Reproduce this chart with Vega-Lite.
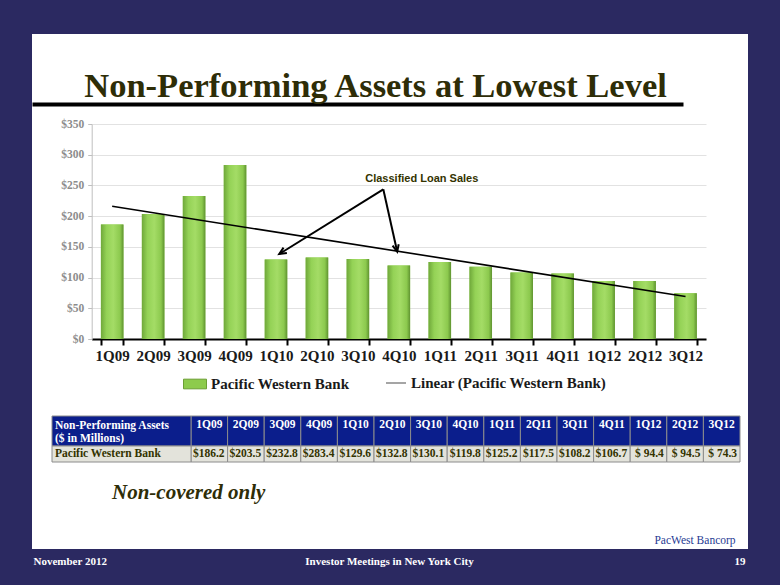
{
  "$schema": "https://vega.github.io/schema/vega-lite/v6.json",
  "width": 716,
  "height": 515,
  "autosize": {"type": "none"},
  "padding": {"left": 32, "top": 34, "right": 32, "bottom": 36},
  "background": "#2B2961",
  "config": {"view": {"fill": "#FFFFFF", "stroke": null}},
  "datasets": {
    "npa": [
      {"q": "1Q09", "i": 1, "v": 186.2},
      {"q": "2Q09", "i": 2, "v": 203.5},
      {"q": "3Q09", "i": 3, "v": 232.8},
      {"q": "4Q09", "i": 4, "v": 283.4},
      {"q": "1Q10", "i": 5, "v": 129.6},
      {"q": "2Q10", "i": 6, "v": 132.8},
      {"q": "3Q10", "i": 7, "v": 130.1},
      {"q": "4Q10", "i": 8, "v": 119.8},
      {"q": "1Q11", "i": 9, "v": 125.2},
      {"q": "2Q11", "i": 10, "v": 117.5},
      {"q": "3Q11", "i": 11, "v": 108.2},
      {"q": "4Q11", "i": 12, "v": 106.7},
      {"q": "1Q12", "i": 13, "v": 94.4},
      {"q": "2Q12", "i": 14, "v": 94.5},
      {"q": "3Q12", "i": 15, "v": 74.3}
    ],
    "arrows": [
      {"to": "1Q10", "i0": 7.62, "v0": 243.7, "i1": 5.08, "v1": 138.4, "heading": 238},
      {"to": "4Q10", "i0": 7.62, "v0": 243.7, "i1": 7.96, "v1": 142.1, "heading": 167}
    ],
    "note": [{"text": "Classified Loan Sales", "i": 8.56, "v": 261}],
    "series": [{"series": "Pacific Western Bank"}],
    "title": [{"title": "Non-Performing Assets at Lowest Level"}],
    "caption": [{"caption": "Non-covered only"}],
    "logo": [{"logo": "PacWest Bancorp"}],
    "footer": [
      {"footer": "November 2012"},
      {"footer": "Investor Meetings in New York City"},
      {"footer": "19"}
    ]
  },
  "resolve": {
    "scale": {"x": "independent", "y": "independent"},
    "axis": {"x": "independent", "y": "independent"}
  },
  "layer": [
    {
      "data": {"name": "npa"},
      "mark": {"type": "bar"},
      "encoding": {
        "x": {
          "field": "q", "type": "nominal", "sort": null,
          "scale": {"range": [59.7, 674], "paddingInner": 0.45, "paddingOuter": 0.225},
          "axis": {
            "orient": "bottom", "offset": -210, "title": null, "labelAngle": 0,
            "labelFont": "Liberation Serif", "labelFontSize": 15, "labelFontWeight": "bold",
            "labelColor": "#1a1a1a", "labelPadding": 3, "labelOverlap": false,
            "domainColor": "#000000", "domainWidth": 2,
            "tickColor": "#000000", "tickWidth": 2, "tickSize": 6, "tickBand": "extent",
            "grid": false
          }
        },
        "y": {
          "field": "v", "type": "quantitative",
          "scale": {"domain": [0, 350], "range": [305, 90], "nice": false},
          "axis": {
            "orient": "left", "offset": -59.7, "title": null,
            "values": [0, 50, 100, 150, 200, 250, 300, 350], "format": "$.0f",
            "labelFont": "Liberation Serif", "labelFontSize": 11.5, "labelFontWeight": "bold",
            "labelColor": "#8C8C8C", "labelPadding": 4,
            "domainColor": "#BFBFBF", "tickColor": "#BFBFBF", "tickSize": 4,
            "grid": true, "gridColor": "#E2E2E2"
          }
        },
        "color": {
          "datum": "Pacific Western Bank", "type": "nominal",
          "scale": {"range": ["#8DCB4C"]},
          "legend": {
            "orient": "none", "legendX": 151, "legendY": 338, "title": null,
            "symbolType": "M-1,-0.42H1V0.42H-1Z", "symbolSize": 529,
            "symbolStrokeColor": "#6C9F35", "symbolStrokeWidth": 1,
            "labelFont": "Liberation Serif", "labelFontSize": 15, "labelFontWeight": "bold",
            "labelColor": "#1a1a1a", "labelOffset": 4, "labelLimit": 400
          }
        }
      }
    },
    {
      "data": {"name": "npa"},
      "mark": {
        "type": "bar",
        "color": {
          "gradient": "linear", "x1": 0, "x2": 1, "y1": 0, "y2": 0,
          "stops": [
            {"offset": 0, "color": "#6FA83A"},
            {"offset": 0.25, "color": "#94D256"},
            {"offset": 0.55, "color": "#A4DC66"},
            {"offset": 0.85, "color": "#8CC94E"},
            {"offset": 1, "color": "#5F9330"}
          ]
        }
      },
      "encoding": {
        "x": {"field": "q", "type": "nominal", "sort": null, "scale": {"range": [59.7, 674], "paddingInner": 0.45, "paddingOuter": 0.225}, "axis": null},
        "y": {"field": "v", "type": "quantitative", "scale": {"domain": [0, 350], "range": [305, 90], "nice": false}, "axis": null}
      }
    },
    {
      "data": {"name": "npa"},
      "transform": [{"regression": "v", "on": "i"}],
      "mark": {"type": "line", "strokeWidth": 1.6},
      "encoding": {
        "x": {"field": "i", "type": "quantitative", "scale": {"domain": [0.5, 15.5], "range": [59.7, 674], "nice": false, "zero": false}, "axis": null},
        "y": {"field": "v", "type": "quantitative", "scale": {"domain": [0, 350], "range": [305, 90], "nice": false}, "axis": null},
        "stroke": {
          "datum": "Linear (Pacific Western Bank)", "type": "nominal",
          "scale": {"range": ["#000000"]},
          "legend": {
            "orient": "none", "legendX": 353, "legendY": 338, "title": null,
            "symbolType": "stroke", "symbolSize": 400, "symbolStrokeWidth": 2, "symbolOpacity": 0.35,
            "labelFont": "Liberation Serif", "labelFontSize": 15, "labelFontWeight": "bold",
            "labelColor": "#1a1a1a", "labelOffset": 4, "labelLimit": 400
          }
        }
      }
    },
    {
      "data": {"name": "arrows"},
      "mark": {"type": "rule", "strokeWidth": 2, "color": "#000000"},
      "encoding": {
        "x": {"field": "i0", "type": "quantitative", "scale": {"domain": [0.5, 15.5], "range": [59.7, 674], "nice": false, "zero": false}, "axis": null},
        "y": {"field": "v0", "type": "quantitative", "scale": {"domain": [0, 350], "range": [305, 90], "nice": false}, "axis": null},
        "x2": {"field": "i1"},
        "y2": {"field": "v1"}
      }
    },
    {
      "data": {"name": "arrows"},
      "mark": {"type": "point", "shape": "M-0.45,1L0,0L0.45,1", "filled": false, "stroke": "#000000", "strokeWidth": 2, "size": 196, "opacity": 1},
      "encoding": {
        "x": {"field": "i1", "type": "quantitative", "scale": {"domain": [0.5, 15.5], "range": [59.7, 674], "nice": false, "zero": false}, "axis": null},
        "y": {"field": "v1", "type": "quantitative", "scale": {"domain": [0, 350], "range": [305, 90], "nice": false}, "axis": null},
        "angle": {"field": "heading", "type": "quantitative", "scale": null}
      }
    },
    {
      "data": {"name": "note"},
      "mark": {"type": "text", "font": "Liberation Sans", "fontSize": 11, "fontWeight": "bold", "color": "#333300", "align": "center", "baseline": "middle"},
      "encoding": {
        "x": {"field": "i", "type": "quantitative", "scale": {"domain": [0.5, 15.5], "range": [59.7, 674], "nice": false, "zero": false}, "axis": null},
        "y": {"field": "v", "type": "quantitative", "scale": {"domain": [0, 350], "range": [305, 90], "nice": false}, "axis": null},
        "text": {"field": "text"}
      }
    },
    {
      "data": {"name": "npa"},
      "mark": {"type": "rect", "fill": "#0B1E8C", "stroke": "#8C8C8C", "strokeWidth": 1},
      "encoding": {
        "x": {"field": "q", "type": "nominal", "sort": null, "scale": {"range": [159, 708], "paddingInner": 0, "paddingOuter": 0}, "axis": null},
        "y": {"datum": "header", "type": "nominal", "scale": {"range": [382, 412], "paddingInner": 0, "paddingOuter": 0}, "axis": null}
      }
    },
    {
      "data": {"name": "npa"},
      "mark": {"type": "text", "font": "Liberation Serif", "fontSize": 11.5, "fontWeight": "bold", "color": "#FFFFFF", "align": "center", "baseline": "middle", "dy": -6},
      "encoding": {
        "x": {"field": "q", "type": "nominal", "sort": null, "scale": {"type": "band", "range": [159, 708], "paddingInner": 0, "paddingOuter": 0}, "axis": null},
        "y": {"datum": "header", "type": "nominal", "scale": {"type": "band", "range": [382, 412], "paddingInner": 0, "paddingOuter": 0}, "axis": null},
        "text": {"field": "q"}
      }
    },
    {
      "data": {"name": "npa"},
      "mark": {"type": "rect", "fill": "#E3E3DB", "stroke": "#8C8C8C", "strokeWidth": 1},
      "encoding": {
        "x": {"field": "q", "type": "nominal", "sort": null, "scale": {"range": [159, 708], "paddingInner": 0, "paddingOuter": 0}, "axis": null},
        "y": {"datum": "data", "type": "nominal", "scale": {"range": [412, 428], "paddingInner": 0, "paddingOuter": 0}, "axis": null}
      }
    },
    {
      "data": {"name": "npa"},
      "mark": {"type": "text", "font": "Liberation Serif", "fontSize": 11.5, "fontWeight": "bold", "color": "#333300", "align": "right", "baseline": "middle", "dx": -3},
      "encoding": {
        "x": {"field": "q", "type": "nominal", "sort": null, "bandPosition": 1, "scale": {"type": "band", "range": [159, 708], "paddingInner": 0, "paddingOuter": 0}, "axis": null},
        "y": {"datum": "data", "type": "nominal", "scale": {"type": "band", "range": [412, 428], "paddingInner": 0, "paddingOuter": 0}, "axis": null},
        "text": {"field": "v", "type": "quantitative", "format": "=$6.1f"}
      }
    },
    {
      "data": {"name": "series"},
      "mark": {"type": "rect", "fill": "#0B1E8C", "stroke": "#8C8C8C", "strokeWidth": 1},
      "encoding": {
        "x": {"datum": "label", "type": "nominal", "scale": {"range": [20, 159], "paddingInner": 0, "paddingOuter": 0}, "axis": null},
        "y": {"datum": "header", "type": "nominal", "scale": {"range": [382, 412], "paddingInner": 0, "paddingOuter": 0}, "axis": null}
      }
    },
    {
      "data": {"name": "series"},
      "mark": {"type": "text", "font": "Liberation Serif", "fontSize": 11.5, "fontWeight": "bold", "color": "#FFFFFF", "align": "left", "baseline": "alphabetic", "lineHeight": 12.5, "dx": 3, "dy": -2},
      "encoding": {
        "x": {"datum": "label", "type": "nominal", "bandPosition": 0, "scale": {"type": "band", "range": [20, 159], "paddingInner": 0, "paddingOuter": 0}, "axis": null},
        "y": {"datum": "header", "type": "nominal", "scale": {"type": "band", "range": [382, 412], "paddingInner": 0, "paddingOuter": 0}, "axis": null},
        "text": {"value": ["Non-Performing Assets", "($ in Millions)"]}
      }
    },
    {
      "data": {"name": "series"},
      "mark": {"type": "rect", "fill": "#E3E3DB", "stroke": "#8C8C8C", "strokeWidth": 1},
      "encoding": {
        "x": {"datum": "label", "type": "nominal", "scale": {"range": [20, 159], "paddingInner": 0, "paddingOuter": 0}, "axis": null},
        "y": {"datum": "data", "type": "nominal", "scale": {"range": [412, 428], "paddingInner": 0, "paddingOuter": 0}, "axis": null}
      }
    },
    {
      "data": {"name": "series"},
      "mark": {"type": "text", "font": "Liberation Serif", "fontSize": 11.5, "fontWeight": "bold", "color": "#333300", "align": "left", "baseline": "middle", "dx": 3},
      "encoding": {
        "x": {"datum": "label", "type": "nominal", "bandPosition": 0, "scale": {"type": "band", "range": [20, 159], "paddingInner": 0, "paddingOuter": 0}, "axis": null},
        "y": {"datum": "data", "type": "nominal", "scale": {"type": "band", "range": [412, 428], "paddingInner": 0, "paddingOuter": 0}, "axis": null},
        "text": {"field": "series"}
      }
    },
    {
      "data": {"name": "title"},
      "mark": {"type": "text", "font": "Liberation Serif", "fontSize": 34.5, "fontWeight": "bold", "color": "#2E2D07", "align": "center", "baseline": "alphabetic", "dx": 18},
      "encoding": {
        "x": {
          "field": "title", "type": "nominal",
          "scale": {"type": "point", "range": [0, 651], "padding": 0},
          "axis": {"orient": "top", "offset": -70, "domain": true, "domainColor": "#000000", "domainWidth": 4, "labels": false, "ticks": false, "grid": false, "title": null}
        },
        "y": {"field": "title", "type": "nominal", "scale": {"type": "point", "range": [63, 63], "padding": 0}, "axis": null},
        "text": {"field": "title"}
      }
    },
    {
      "data": {"name": "caption"},
      "mark": {"type": "text", "font": "Liberation Serif", "fontSize": 21, "fontWeight": "bold", "fontStyle": "italic", "color": "#2E2D07", "align": "left", "baseline": "alphabetic"},
      "encoding": {
        "x": {"field": "caption", "type": "nominal", "scale": {"type": "point", "range": [80, 80], "padding": 0}, "axis": null},
        "y": {"field": "caption", "type": "nominal", "scale": {"type": "point", "range": [465, 465], "padding": 0}, "axis": null},
        "text": {"field": "caption"}
      }
    },
    {
      "data": {"name": "logo"},
      "mark": {"type": "text", "font": "Liberation Serif", "fontSize": 11.5, "color": "#1F3A93", "align": "center", "baseline": "alphabetic"},
      "encoding": {
        "x": {"field": "logo", "type": "nominal", "scale": {"type": "point", "range": [663, 663], "padding": 0}, "axis": null},
        "y": {"field": "logo", "type": "nominal", "scale": {"type": "point", "range": [510, 510], "padding": 0}, "axis": null},
        "text": {"field": "logo"}
      }
    },
    {
      "data": {"name": "footer"},
      "mark": {"type": "point", "opacity": 0},
      "encoding": {
        "x": {
          "field": "footer", "type": "nominal", "sort": null,
          "scale": {"type": "point", "range": [1, 713], "padding": 0},
          "axis": {
            "orient": "bottom", "offset": 0, "title": null, "labelAngle": 0, "labelFlush": true,
            "labelFont": "Liberation Serif", "labelFontSize": 11, "labelFontWeight": "bold",
            "labelColor": "#FFFFFF", "labelPadding": 6, "labelOverlap": false, "labelLimit": 0,
            "domain": false, "ticks": false, "tickSize": 0, "grid": false
          }
        }
      }
    }
  ]
}
